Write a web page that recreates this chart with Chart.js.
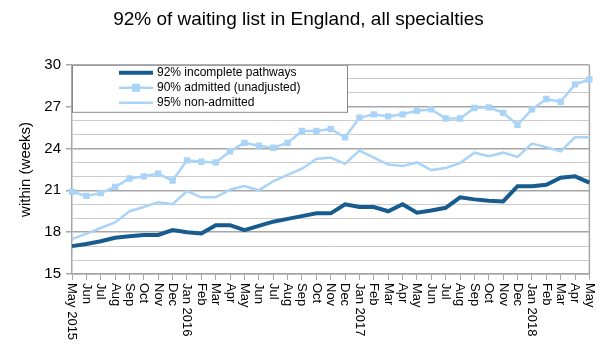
<!DOCTYPE html>
<html>
<head>
<meta charset="utf-8">
<script src="https://cdn.jsdelivr.net/npm/chart.js@4/dist/chart.umd.min.js"></script>
<style>
  html, body { margin: 0; padding: 0; background: #fff; }
  #wrap { width: 608px; height: 349px; }
</style>
</head>
<body>
<div id="wrap"><canvas id="chart" width="608" height="349"></canvas></div>
<script>
// Month labels, May 2015 .. May 2018
const months = ['May 2015', 'Jun', 'Jul', 'Aug', 'Sep', 'Oct', 'Nov', 'Dec',
    'Jan 2016', 'Feb', 'Mar', 'Apr', 'May', 'Jun', 'Jul', 'Aug', 'Sep', 'Oct', 'Nov', 'Dec',
    'Jan 2017', 'Feb', 'Mar', 'Apr', 'May', 'Jun', 'Jul', 'Aug', 'Sep', 'Oct', 'Nov', 'Dec',
    'Jan 2018', 'Feb', 'Mar', 'Apr', 'May'];

// weeks within which the given % of patients are waiting
const incomplete92 = [17.0, 17.15, 17.35, 17.6, 17.7, 17.8, 17.8, 18.15,
    18.0, 17.9, 18.5, 18.5, 18.15, 18.45, 18.75, 18.95, 19.15, 19.35, 19.35, 20.0,
    19.8, 19.8, 19.5, 20.0, 19.4, 19.55, 19.75, 20.5, 20.35, 20.25, 20.2, 21.3,
    21.3, 21.4, 21.9, 22.0, 21.55];
const admitted90 = [20.9, 20.6, 20.8, 21.25, 21.85, 22.0, 22.2, 21.7,
    23.15, 23.05, 23.0, 23.8, 24.4, 24.2, 24.05, 24.4, 25.25, 25.25, 25.4, 24.8,
    26.2, 26.45, 26.3, 26.45, 26.7, 26.8, 26.15, 26.15, 26.9, 26.95, 26.55, 25.7,
    26.8, 27.55, 27.35, 28.6, 28.95];
const nonAdmitted95 = [17.5, 17.9, 18.3, 18.7, 19.5, 19.8, 20.15, 20.0,
    20.95, 20.5, 20.5, 21.05, 21.3, 21.0, 21.65, 22.1, 22.55, 23.25, 23.35, 22.9,
    23.85, 23.35, 22.85, 22.75, 23.0, 22.45, 22.6, 22.95, 23.7, 23.45, 23.7, 23.4,
    24.35, 24.1, 23.8, 24.8, 24.8];

const seriesNames = ['92% incomplete pathways', '90% admitted (unadjusted)', '95% non-admitted'];
const yTicks = [15, 18, 21, 24, 27, 30];

const DARK = '#175b8f';
const LIGHT = '#a9d3f7';
const FONT = 'Liberation Sans, Arial, sans-serif';

const isMajor = (c) => c.tick && yTicks.includes(c.tick.value);

// x labels read top-to-bottom, so draw them ourselves at the scale's tick positions
const rotatedLabels = {
    id: 'rotatedLabels',
    afterDraw(chart) {
        const { ctx, scales: { x } } = chart;
        ctx.save();
        ctx.font = '13px ' + FONT;
        ctx.fillStyle = '#000';
        ctx.textAlign = 'left';
        ctx.textBaseline = 'middle';
        months.forEach((m, i) => {
            const px = x.getPixelForTick(i);
            ctx.save();
            ctx.translate(px, x.top + 9);
            ctx.rotate(Math.PI / 2);
            ctx.fillText(m, 0, 0);
            ctx.restore();
        });
        ctx.restore();
    }
};

// right edge of the plot frame
const frame = {
    id: 'frame',
    beforeDatasetsDraw(chart) {
        const { ctx, chartArea: a } = chart;
        ctx.save();
        ctx.strokeStyle = '#a6a6a6';
        ctx.lineWidth = 1.5;
        ctx.beginPath();
        ctx.moveTo(a.right, a.top);
        ctx.lineTo(a.right, a.bottom);
        ctx.stroke();
        ctx.restore();
    }
};

// boxed legend in the top-left corner of the plot
const boxLegend = {
    id: 'boxLegend',
    afterDatasetsDraw(chart) {
        const { ctx, chartArea: a } = chart;
        const left = a.left, top = a.top, w = 275, h = 47;
        ctx.save();
        ctx.fillStyle = '#fff';
        ctx.fillRect(left, top, w, h);
        ctx.strokeStyle = '#888';
        ctx.lineWidth = 1;
        ctx.strokeRect(left + 0.5, top + 0.5, w, h);
        ctx.font = '12px ' + FONT;
        ctx.textBaseline = 'middle';
        chart.data.datasets.forEach((ds, i) => {
            const y = top + 8 + i * 15;
            ctx.strokeStyle = ds.borderColor;
            ctx.lineWidth = ds.borderWidth;
            ctx.beginPath();
            ctx.moveTo(left + 47, y);
            ctx.lineTo(left + 81, y);
            ctx.stroke();
            if (ds.pointRadius > 0) {
                ctx.fillStyle = ds.borderColor;
                ctx.fillRect(left + 60, y - 4, 8, 8);
            }
            ctx.fillStyle = '#000';
            ctx.fillText(ds.label, left + 85, y);
        });
        ctx.restore();
    }
};

new Chart(document.getElementById('chart'), {
    type: 'line',
    plugins: [rotatedLabels, frame, boxLegend],
    data: {
        labels: months,
        datasets: [
            {
                label: seriesNames[0],
                data: incomplete92,
                borderColor: DARK,
                backgroundColor: DARK,
                borderWidth: 4,
                pointRadius: 0,
                tension: 0
            },
            {
                label: seriesNames[1],
                data: admitted90,
                borderColor: LIGHT,
                backgroundColor: LIGHT,
                borderWidth: 2.5,
                pointStyle: 'rect',
                pointRadius: 4.5,
                pointBorderWidth: 0,
                tension: 0
            },
            {
                label: seriesNames[2],
                data: nonAdmitted95,
                borderColor: LIGHT,
                backgroundColor: LIGHT,
                borderWidth: 2.5,
                pointRadius: 0,
                tension: 0
            }
        ]
    },
    options: {
        responsive: false,
        animation: false,
        layout: { padding: { left: 0, right: 11, top: 0, bottom: 0 } },
        plugins: {
            legend: { display: false },
            tooltip: { enabled: false },
            title: {
                display: true,
                text: '92% of waiting list in England, all specialties',
                color: '#000',
                font: { family: FONT, size: 19, weight: 'normal' },
                padding: { top: 8, bottom: 34 }
            }
        },
        scales: {
            x: {
                offset: false,
                grid: {
                    drawOnChartArea: false,
                    drawTicks: true,
                    tickLength: 6,
                    tickColor: '#a6a6a6'
                },
                border: { display: true, color: '#a6a6a6', width: 1.5 },
                ticks: {
                    color: 'rgba(0,0,0,0)',
                    autoSkip: false,
                    maxRotation: 90,
                    minRotation: 90,
                    font: { family: FONT, size: 13 }
                },
                afterFit(scale) { scale.height = 75; }
            },
            y: {
                min: 15,
                max: 30,
                ticks: {
                    stepSize: 1,
                    autoSkip: false,
                    color: '#000',
                    padding: 5,
                    font: { family: FONT, size: 15 },
                    callback: (v) => (yTicks.includes(v) ? v : '')
                },
                grid: {
                    color: (c) => (isMajor(c) ? '#a6a6a6' : '#cccccc'),
                    lineWidth: (c) => (isMajor(c) ? 1.5 : 1),
                    tickColor: (c) => (isMajor(c) ? '#a6a6a6' : 'rgba(0,0,0,0)'),
                    tickLength: 6
                },
                border: { display: true, color: '#a6a6a6', width: 1.5 },
                title: {
                    display: true,
                    text: 'within (weeks)',
                    color: '#000',
                    font: { family: FONT, size: 15 },
                    padding: { top: 17, bottom: 4 }
                },
                afterFit(scale) { scale.width = 72; }
            }
        }
    }
});
</script>
</body>
</html>
